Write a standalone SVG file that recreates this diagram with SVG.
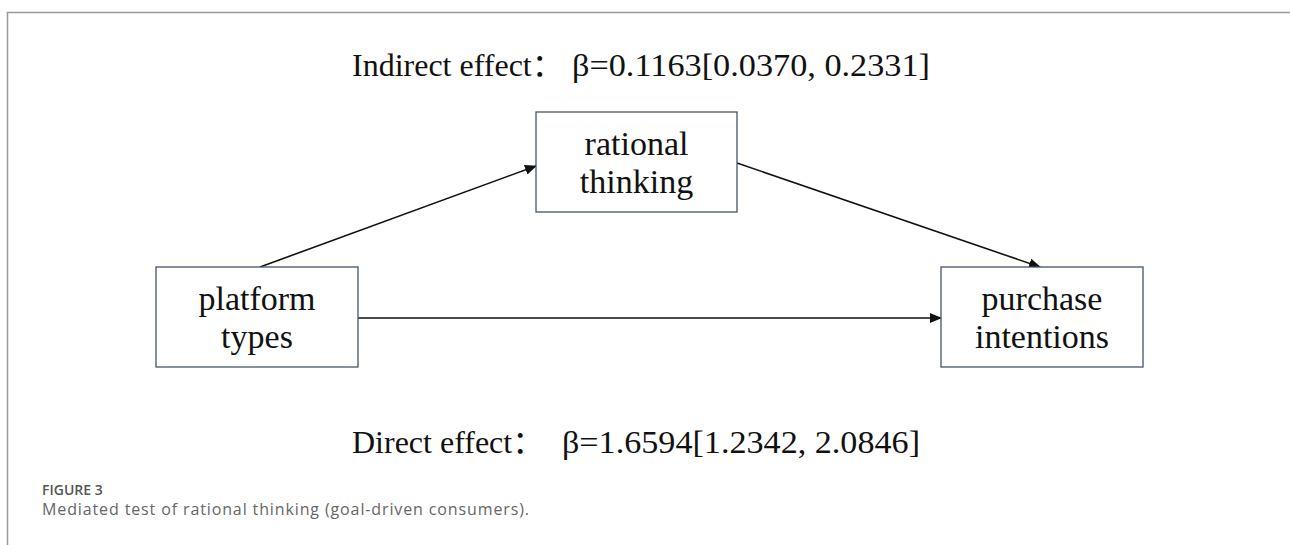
<svg xmlns="http://www.w3.org/2000/svg" width="1290" height="545" viewBox="0 0 1290 545">
<style>
.box{fill:#fff;stroke:#44546a;stroke-width:1.3}
.lbl{font-family:"Liberation Serif","Times New Roman",serif;font-size:34px;fill:#111;text-anchor:middle}
.eff{font-family:"Liberation Serif","Times New Roman","Noto Sans CJK SC",serif;font-size:32px;fill:#111}
.conn{stroke:#111;stroke-width:1.6;fill:none;marker-end:url(#ah)}
.cap1{font-family:"Open Sans","Noto Sans",sans-serif;font-size:14px;font-weight:600;fill:#555}
.cap2{font-family:"Open Sans","Noto Sans",sans-serif;font-size:16px;fill:#666}
</style>
<defs>
<marker id="ah" markerWidth="12" markerHeight="10" refX="11" refY="5" orient="auto" markerUnits="userSpaceOnUse">
<path d="M0,0 L12,5 L0,10 Z" fill="#111"/>
</marker>
</defs>
<rect width="1290" height="545" fill="#fff"/>
<path d="M7.5,545 V12.5 H1290" fill="none" stroke="#999" stroke-width="1.5"/>
<g id="connectors">
<line class="conn" x1="260" y1="267" x2="536" y2="166"/>
<line class="conn" x1="737" y1="163" x2="1040" y2="267"/>
<line class="conn" x1="358" y1="318" x2="941" y2="318"/>
</g>
<g id="node-rational">
<rect class="box" x="536" y="112" width="201" height="100"/>
<text class="lbl" x="636.5" y="155">rational</text>
<text class="lbl" x="636.5" y="193">thinking</text>
</g>
<g id="node-platform">
<rect class="box" x="156" y="267" width="202" height="100"/>
<text class="lbl" x="257" y="310">platform</text>
<text class="lbl" x="257" y="348">types</text>
</g>
<g id="node-purchase">
<rect class="box" x="941" y="267" width="202" height="100"/>
<text class="lbl" x="1042" y="310">purchase</text>
<text class="lbl" x="1042" y="348">intentions</text>
</g>
<g id="label-indirect">
<text class="eff" x="352" y="76">Indirect effect：</text>
<text class="eff" x="572" y="76" textLength="358" lengthAdjust="spacingAndGlyphs">β=0.1163[0.0370, 0.2331]</text>
</g>
<g id="label-direct">
<text class="eff" x="352" y="453">Direct effect：</text>
<text class="eff" x="562" y="453" textLength="358" lengthAdjust="spacingAndGlyphs">β=1.6594[1.2342, 2.0846]</text>
</g>
<g id="caption">
<text class="cap1" x="42" y="495">FIGURE 3</text>
<text class="cap2" x="42" y="515" textLength="487" lengthAdjust="spacing">Mediated test of rational thinking (goal-driven consumers).</text>
</g>
</svg>
